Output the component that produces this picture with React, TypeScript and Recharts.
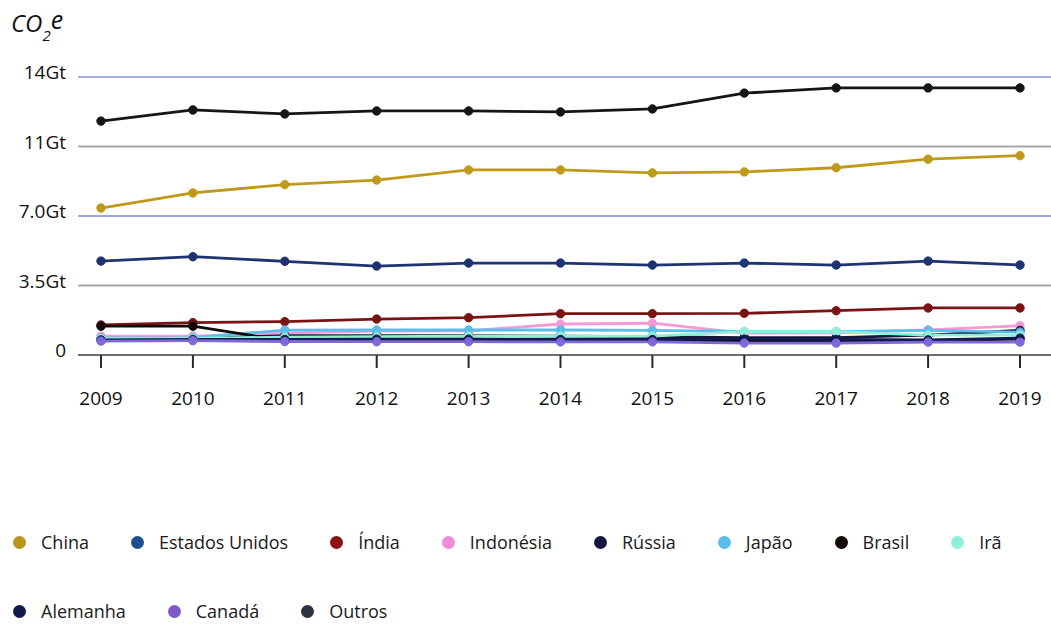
import React from 'react';
import { LineChart, Line, XAxis, YAxis, ReferenceLine } from 'recharts';

const years = ['2009', '2010', '2011', '2012', '2013', '2014', '2015', '2016', '2017', '2018', '2019'];

const china = [7.4, 8.16, 8.58, 8.81, 9.32, 9.32, 9.17, 9.22, 9.43, 9.86, 10.04];
const estadosUnidos = [4.73, 4.95, 4.72, 4.48, 4.63, 4.63, 4.53, 4.63, 4.53, 4.73, 4.53];
const india = [1.51, 1.63, 1.68, 1.81, 1.88, 2.08, 2.08, 2.1, 2.23, 2.37, 2.37];
const indonesia = [0.95, 0.95, 1.1, 1.2, 1.22, 1.56, 1.6, 1.1, 1.12, 1.27, 1.47];
const russia = [0.8, 0.82, 0.98, 0.98, 0.97, 0.95, 0.93, 0.88, 0.88, 1.0, 1.24];
const japao = [0.86, 0.88, 1.25, 1.26, 1.26, 1.26, 1.24, 1.18, 1.18, 1.24, 1.15];
const brasil = [1.45, 1.45, 0.72, 0.72, 0.72, 0.72, 0.72, 0.72, 0.72, 0.72, 0.8];
const ira = [0.82, 0.84, 0.9, 0.92, 0.95, 0.95, 0.95, 1.18, 1.18, 1.0, 1.0];
const alemanha = [0.76, 0.78, 0.78, 0.8, 0.8, 0.78, 0.78, 0.8, 0.78, 0.76, 0.85];
const canada = [0.7, 0.72, 0.68, 0.67, 0.67, 0.66, 0.66, 0.6, 0.6, 0.65, 0.65];
const outros = [11.78, 12.34, 12.14, 12.29, 12.29, 12.24, 12.39, 13.19, 13.45, 13.45, 13.45];

const yTicks = [0, 3.5, 7, 10.5, 14];
const yTickLabels = ['0', '3.5Gt', '7.0Gt', '11Gt', '14Gt'];

const seriesNames = ['China', 'Estados Unidos', 'Índia', 'Indonésia', 'Rússia', 'Japão', 'Brasil', 'Irã', 'Alemanha', 'Canadá', 'Outros'];
const seriesValues = [china, estadosUnidos, india, indonesia, russia, japao, brasil, ira, alemanha, canada, outros];
const seriesColors = ['#bf9a1a', '#1d3372', '#7a1414', '#f49ad8', '#16163f', '#5bbdea', '#140808', '#8ef0d9', '#0f1b4d', '#7f68da', '#151515'];
const legendColors = ['#b8961a', '#1f4f8f', '#8a1414', '#f08ad6', '#16163f', '#5bbdea', '#140808', '#8ef0d9', '#0f1b4d', '#7f58c8', '#2a3242'];

const gridColors = ['#a9a9b4', '#9ea6dc', '#a9a9b4', '#a6ade0'];

const data = years.map((year, i) => {
  const row: Record<string, string | number> = { year };
  seriesNames.forEach((name, s) => {
    row[name] = seriesValues[s][i];
  });
  return row;
});

const YTick = (props: any) => {
  const { x, y, payload, index } = props;
  const idx = yTicks.indexOf(payload.value);
  return (
    <text x={x} y={y - 5} textAnchor="end" dominantBaseline="central" fill="#111" fontSize={19} fontWeight={500} fontFamily="'Open Sans', sans-serif">
      {yTickLabels[idx >= 0 ? idx : index]}
    </text>
  );
};

export default function App() {
  return (
    <div style={{ position: 'absolute', left: 0, top: 0, width: 1051, height: 625, background: '#fff', fontFamily: "'Open Sans', sans-serif" }}>
      <svg width={120} height={60} style={{ position: 'absolute', left: 0, top: 0 }}>
        <text x={11} y={32} fontSize={24} fontStyle="italic" fill="#111" fontFamily="'Open Sans', sans-serif">
          CO<tspan dy={9} fontSize={15}>2</tspan><tspan dy={-12} fontSize={25}>e</tspan>
        </text>
      </svg>
      <div style={{ position: 'absolute', left: 0, top: 0 }}>
        <LineChart width={1051} height={440} data={data} margin={{ top: 77, right: 0, bottom: 0, left: 0 }}>
          {yTicks.slice(1).map((t, i) => (
            <ReferenceLine key={t} y={t} stroke={gridColors[i]} strokeWidth={2} ifOverflow="extendDomain" />
          ))}
          <XAxis
            dataKey="year"
            height={85}
            padding={{ left: 23, right: 31 }}
            axisLine={{ stroke: '#6e6e6e', strokeWidth: 2 }}
            tickLine={{ stroke: '#2a2a2a', strokeWidth: 2 }}
            tickSize={13}
            tickMargin={24}
            tick={{ fill: '#111', fontSize: 19, fontWeight: 500, fontFamily: "'Open Sans', sans-serif" }}
            interval={0}
          />
          <YAxis
            width={78}
            domain={[0, 14]}
            ticks={yTicks}
            axisLine={false}
            tickLine={false}
            tickSize={0}
            tickMargin={12}
            tick={<YTick />}
            interval={0}
          />
          {seriesNames.map((name, s) => (
            <Line
              key={name}
              dataKey={name}
              type="linear"
              stroke={seriesColors[s]}
              strokeWidth={2.8}
              dot={{ r: 4.2, fill: seriesColors[s], stroke: seriesColors[s], strokeWidth: 1 }}
              isAnimationActive={false}
            />
          ))}
        </LineChart>
      </div>
      <div
        style={{
          position: 'absolute',
          left: 13,
          top: 530,
          width: 1045,
          display: 'flex',
          flexWrap: 'wrap',
          rowGap: 44,
        }}
      >
        {seriesNames.map((name, s) => (
          <div key={name} style={{ display: 'flex', alignItems: 'center', height: 25, marginRight: 42 }}>
            <span
              style={{
                display: 'inline-block',
                width: 13,
                height: 13,
                borderRadius: '50%',
                background: legendColors[s],
                marginRight: 15,
              }}
            />
            <span style={{ fontSize: 18, color: '#1a1a1a', lineHeight: '25px' }}>{name}</span>
          </div>
        ))}
      </div>
    </div>
  );
}
